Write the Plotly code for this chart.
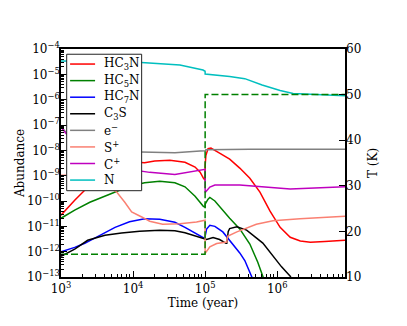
import numpy as np
import plotly.graph_objects as go

# ---- data (log10 of time in years, log10 of abundance) ----
hc3n_t = [3.0, 3.19, 3.36, 3.54, 3.75, 3.95, 4.16, 4.30, 4.51, 4.72, 4.86, 4.93, 4.975, 4.999,
          5.0, 5.01, 5.04, 5.08, 5.20, 5.34, 5.48, 5.62, 5.76, 5.90, 6.04, 6.18, 6.32, 6.46, 6.66, 6.94]
hc3n_a = [-10.56, -9.97, -9.49, -9.02, -8.62, -8.45, -8.49, -8.42, -8.39, -8.47, -8.66, -8.86, -9.10, -9.18,
          -8.6, -8.2, -7.93, -7.91, -8.11, -8.35, -8.70, -9.10, -9.65, -10.40, -11.04, -11.43, -11.58, -11.63, -11.60, -11.55]

hc5n_t = [3.0, 3.19, 3.40, 3.61, 3.75, 3.95, 4.16, 4.37, 4.58, 4.72, 4.86, 4.975, 4.999,
          5.0, 5.04, 5.065, 5.135, 5.20, 5.34, 5.48, 5.62, 5.73, 5.82]
hc5n_a = [-10.68, -10.36, -10.05, -9.81, -9.65, -9.42, -9.28, -9.22, -9.28, -9.44, -9.81, -10.21, -10.24,
          -10.12, -9.93, -9.86, -10.0, -10.23, -10.68, -11.10, -11.70, -12.42, -13.13]

hc7n_t = [3.0, 3.19, 3.33, 3.54, 3.75, 3.95, 4.16, 4.37, 4.58, 4.72, 4.86, 4.975, 4.999,
          5.0, 5.02, 5.065, 5.135, 5.245, 5.34, 5.41, 5.48, 5.55, 5.645, 5.70]
hc7n_a = [-12.0, -11.83, -11.67, -11.35, -11.04, -10.82, -10.70, -10.72, -10.84, -11.04, -11.27, -11.47, -11.49,
          -11.39, -11.11, -10.96, -11.0, -11.22, -11.55, -11.81, -12.05, -12.35, -13.0, -13.35]

c3s_t = [3.0, 3.19, 3.37, 3.61, 3.84, 4.09, 4.37, 4.58, 4.72, 4.86, 4.975, 4.999,
         5.0, 5.02, 5.11, 5.20, 5.29, 5.30, 5.32, 5.34, 5.44, 5.575, 5.80, 5.94, 6.06, 6.19]
c3s_a = [-12.18, -11.90, -11.55, -11.35, -11.26, -11.19, -11.15, -11.17, -11.25, -11.37, -11.47, -11.48,
         -11.50, -11.52, -11.44, -11.52, -11.67, -11.67, -11.20, -11.09, -11.02, -11.15, -11.66, -12.17, -12.60, -13.0]

elec_t = [3.0, 3.065, 3.26, 3.54, 3.95, 4.58, 4.93, 4.999, 5.01, 5.62, 6.94]
elec_a = [-7.06, -7.28, -7.80, -7.98, -8.06, -8.10, -8.03, -8.02, -7.98, -7.96, -7.96]

splus_t = [3.0, 3.26, 3.47, 3.77, 3.885, 3.98, 4.12, 4.23, 4.41, 4.65, 4.88, 4.999,
           5.0, 5.065, 5.16, 5.28, 5.30, 5.31, 5.44, 5.71, 5.94, 6.315, 6.955]
splus_a = [-8.98, -8.98, -9.10, -9.64, -10.05, -10.43, -10.63, -10.80, -10.92, -10.90, -10.83, -10.76,
           -12.07, -11.81, -11.68, -11.62, -11.62, -11.39, -11.22, -10.92, -10.78, -10.70, -10.60]

cplus_t = [3.0, 3.065, 3.26, 3.54, 3.82, 4.02, 4.23, 4.58, 4.79, 4.999,
           5.0, 5.065, 5.135, 5.48, 6.18, 6.955]
cplus_a = [-7.08, -7.32, -7.99, -8.47, -8.70, -8.78, -8.87, -8.95, -8.85, -8.75,
           -9.66, -9.45, -9.37, -9.37, -9.53, -9.44]

n_t = [3.0, 3.54, 3.955, 4.65, 4.97, 4.999, 5.0, 5.34, 5.55, 5.79, 6.04, 6.22, 6.94]
n_a = [-4.47, -4.49, -4.50, -4.63, -4.83, -4.88, -4.99, -5.09, -5.17, -5.42, -5.64, -5.76, -5.85]

temp_t = [3.0, 4.999, 5.0, 6.94]
temp_k = [15, 15, 50, 50]

names = ["HC<sub>3</sub>N", "HC<sub>5</sub>N", "HC<sub>7</sub>N", "C<sub>3</sub>S",
         "e<sup>−</sup>", "S<sup>+</sup>", "C<sup>+</sup>", "N"]
times = [hc3n_t, hc5n_t, hc7n_t, c3s_t, elec_t, splus_t, cplus_t, n_t]
abund = [hc3n_a, hc5n_a, hc7n_a, c3s_a, elec_a, splus_a, cplus_a, n_a]
colors = ["#FF0000", "#008000", "#0000FF", "#000000", "#808080", "#FA8072", "#BF00BF", "#00BFBF"]

x_ticks = [1e3, 1e4, 1e5, 1e6]
x_ticktext = ["10<sup>3</sup>", "10<sup>4</sup>", "10<sup>5</sup>", "10<sup>6</sup>"]
y_exps = [-13, -12, -11, -10, -9, -8, -7, -6, -5, -4]
t_ticks = [10, 20, 30, 40, 50, 60]

FONT = "DejaVu Serif"

fig = go.Figure()
for name, t, a, col in zip(names, times, abund, colors):
    fig.add_trace(go.Scatter(
        x=10 ** np.array(t), y=10 ** np.array(a), mode="lines", name=name,
        line=dict(color=col, width=1.5)))

fig.add_trace(go.Scatter(
    x=10 ** np.array(temp_t), y=temp_k, mode="lines", yaxis="y2", name="T",
    line=dict(color="#008000", width=1.5, dash="7px,3px")))

# ---- hand-drawn legend box (matplotlib-like, opaque, upper left) ----
LX0, LX1, LY0, LY1 = 0.020, 0.284, 0.3785, 0.977
ROW0, ROWSTEP = 0.934, 0.0727
SX0, SX1, TX = 0.032, 0.120, 0.146
shapes = [dict(type="rect", xref="paper", yref="paper", x0=LX0, x1=LX1, y0=LY0, y1=LY1,
               fillcolor="white", line=dict(color="#222222", width=1), layer="above")]
annotations = []
for i, (name, col) in enumerate(zip(names, colors)):
    yy = ROW0 - i * ROWSTEP
    shapes.append(dict(type="line", xref="paper", yref="paper", x0=SX0, x1=SX1, y0=yy, y1=yy,
                       line=dict(color=col, width=1.5), layer="above"))
    annotations.append(dict(xref="paper", yref="paper", x=TX, y=yy, text=name, showarrow=False,
                            xanchor="left", yanchor="middle",
                            font=dict(family=FONT, size=12, color="black")))

fig.update_layout(
    width=407, height=326,
    margin=dict(l=61, r=62, t=49, b=49),
    paper_bgcolor="white", plot_bgcolor="white",
    font=dict(family=FONT, size=12, color="black"),
    showlegend=False,
    shapes=shapes, annotations=annotations,
    xaxis=dict(type="log", range=[3, 6.94], showgrid=False, zeroline=False,
               tickvals=x_ticks, ticktext=x_ticktext, ticks="inside", ticklen=6,
               tickwidth=1, tickcolor="black",
               minor=dict(ticks="inside", ticklen=3, dtick="D1", tickcolor="black"),
               showline=True, linecolor="black", linewidth=1.5, mirror=True,
               title=dict(text="Time (year)", font=dict(size=12), standoff=2)),
    yaxis=dict(type="log", range=[-13, -4], showgrid=False, zeroline=False,
               tickvals=[10.0 ** e for e in y_exps],
               ticktext=["10<sup>−%d</sup>" % (-e) for e in y_exps],
               ticks="inside", ticklen=6, tickwidth=1, tickcolor="black",
               ticklabelstandoff=-3,
               minor=dict(ticks="inside", ticklen=3, dtick="D1", tickcolor="black"),
               showline=True, linecolor="black", linewidth=1.5, mirror=True,
               title=dict(text="Abundance", font=dict(size=12), standoff=0)),
    yaxis2=dict(overlaying="y", side="right", range=[10, 60], tickvals=t_ticks,
                showgrid=False, zeroline=False, ticks="inside", ticklen=6,
                tickcolor="black", showline=False,
                title=dict(text="T (K)", font=dict(size=12), standoff=8)),
)

fig.write_html("out.html", config={"displayModeBar": False},
               post_script="document.body.style.margin='0';")
